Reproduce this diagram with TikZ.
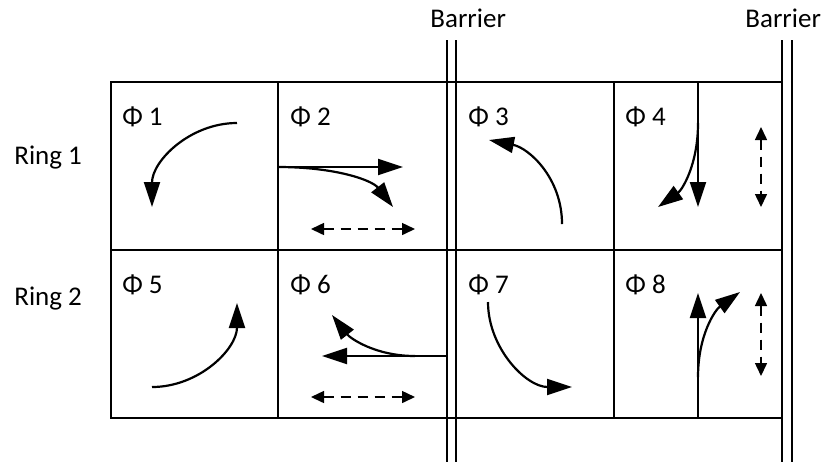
\documentclass[tikz,border=0pt]{standalone}
\usepackage{fontspec}
\setmainfont{Carlito}
\usetikzlibrary{arrows.meta}

\begin{document}
\begin{tikzpicture}[x=0.5pt, y=-0.5pt,
    lbl/.style={inner sep=0pt, anchor=base west, font=\fontsize{13.5}{16}\selectfont},
    grid/.style={line width=0.8pt},
    move/.style={line width=1.1pt, -{Triangle[length=12.5pt, width=8pt]}},
    walk/.style={line width=0.75pt, dash pattern=on 5pt off 3.5pt, {Triangle[length=6.5pt, width=6pt]}-{Triangle[length=6.5pt, width=6pt]}}]
    \useasboundingbox (0, 0) rectangle (822, 462);

    % table
    \draw[grid] (111, 82) rectangle (782, 418);
    \draw[grid] (111, 250) -- (782, 250);
    \draw[grid] (278, 82) -- (278, 418);
    \draw[grid] (614, 82) -- (614, 418);

    % barriers
    \draw[grid] (447, 40) -- (447, 462);
    \draw[grid] (456, 40) -- (456, 462);
    \draw[grid] (782, 40) -- (782, 462);
    \draw[grid] (792, 40) -- (792, 462);
    \node[lbl] (bar1) at (430, 27) {Barrier};
    \node[lbl] (bar2) at (745, 27) {Barrier};

    \node[lbl] (ring1) at (14, 164) {Ring 1};
    \node[lbl] (ring2) at (14, 305) {Ring 2};

    \node[lbl] (ph1) at (122, 125) {Φ 1};
    \node[lbl] (ph2) at (290, 125) {Φ 2};
    \node[lbl] (ph3) at (468, 125) {Φ 3};
    \node[lbl] (ph4) at (625, 125) {Φ 4};
    \node[lbl] (ph5) at (122, 293) {Φ 5};
    \node[lbl] (ph6) at (290, 293) {Φ 6};
    \node[lbl] (ph7) at (468, 293) {Φ 7};
    \node[lbl] (ph8) at (625, 293) {Φ 8};

    % phase 1
    \draw[move] (237, 123) .. controls (190, 123) and (152, 161) .. (152, 207);
    % phase 2
    \draw[move] (278, 167) -- (403, 167);
    \draw[move] (278, 167) .. controls (335, 167) and (372, 180) .. (393, 207);
    \draw[walk] (311, 229) -- (415, 229);
    % phase 3
    \draw[move] (562, 224) .. controls (562, 178) and (529, 148) .. (489, 140);
    % phase 4
    \draw[move] (698, 82) -- (698, 207);
    \draw[move] (698, 123) .. controls (698, 165) and (682, 190) .. (658, 207);
    \draw[walk] (761, 127) -- (761, 207);
    % phase 5
    \draw[move] (152, 387) .. controls (199, 387) and (237, 349) .. (237, 303);
    % phase 6
    \draw[move] (447, 356) -- (322, 356);
    \draw[move] (415, 356) .. controls (375, 356) and (350, 338) .. (332, 315);
    \draw[walk] (311, 397) -- (415, 397);
    % phase 7
    \draw[move] (488, 302) .. controls (488, 348) and (526, 387) .. (572, 387);
    % phase 8
    \draw[move] (698, 418) -- (698, 293);
    \draw[move] (698, 377) .. controls (698, 335) and (715, 310) .. (740, 292);
    \draw[walk] (761, 293) -- (761, 376);
\end{tikzpicture}
\end{document}
